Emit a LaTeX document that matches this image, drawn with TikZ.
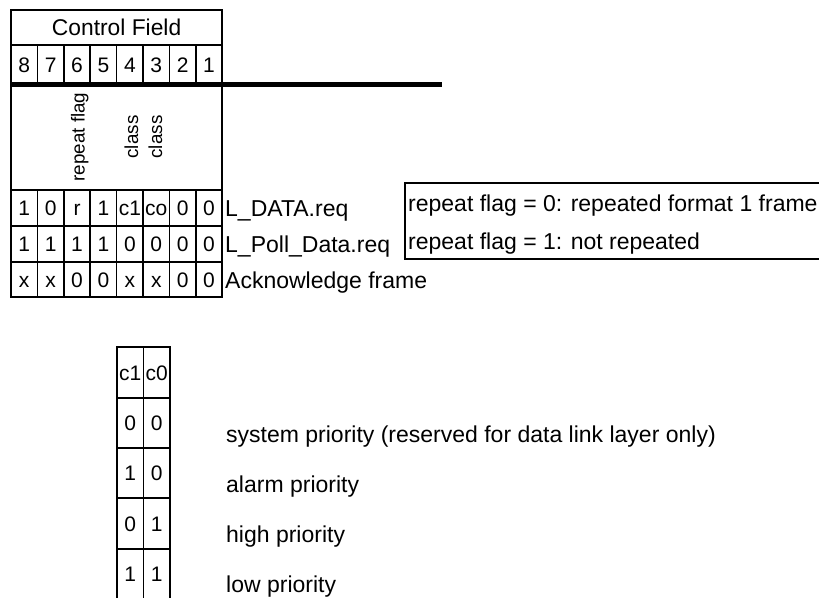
\documentclass[tikz,border=0pt]{standalone}
\usepackage{fontspec}
\setmainfont{Liberation Sans}
\begin{document}
\begin{tikzpicture}[x=1pt,y=-1pt,
  grid/.style={line width=1.7pt},
  thickrule/.style={line width=5pt},
  boxline/.style={line width=1.3pt},
  cell/.style={font=\fontsize{21}{21}\selectfont, inner sep=0pt, anchor=base},
  hdr/.style={font=\fontsize{22.8}{22.8}\selectfont, inner sep=0pt, anchor=base},
  lbl/.style={font=\fontsize{23}{23}\selectfont, anchor=base west, inner sep=0pt},
  vert/.style={font=\fontsize{18.8}{18.8}\selectfont, rotate=90, anchor=base, inner sep=0pt}]
\useasboundingbox (0,0) rectangle (819,597);
% ---------- top table ----------
\draw[grid] (11,10) rectangle (222.3,297);
\draw[grid] (11,45) -- (222.3,45);
\draw[grid] (11,190) -- (222.3,190);
\draw[grid] (11,226) -- (222.3,226);
\draw[grid] (11,262) -- (222.3,262);
\foreach \i in {1,...,7} {
  \draw[grid] ({11+26.41*\i},45) -- ({11+26.41*\i},84);
  \draw[grid] ({11+26.41*\i},190) -- ({11+26.41*\i},297);
}
\draw[thickrule] (10,84) -- (442,84);
\node[hdr] (cf) at (116.6,35) {Control Field};
\foreach \b [count=\i] in {8,7,6,5,4,3,2,1}
  \node[cell] (bit\b) at ({11+26.41*(\i-0.5)},72) {\b};
\node[vert] (rf) at (84.5,137) {repeat flag};
\node[vert] (cl1) at (138,137) {class};
\node[vert] (cl2) at (162,137) {class};
\foreach \v [count=\i] in {1,0,r,1,c1,co,0,0}
  \node[cell] (ra\i) at ({11+26.41*(\i-0.5)},215.5) {\v};
\foreach \v [count=\i] in {1,1,1,1,0,0,0,0}
  \node[cell] (rb\i) at ({11+26.41*(\i-0.5)},251.5) {\v};
\foreach \v [count=\i] in {x,x,0,0,x,x,0,0}
  \node[cell] (rc\i) at ({11+26.41*(\i-0.5)},287) {\v};
\node[lbl] (ldata) at (225,216) {L\_DATA.req};
\node[lbl] (lpoll) at (225,252) {L\_Poll\_Data.req};
\node[lbl] (ack) at (225,288) {Acknowledge frame};
% ---------- note box ----------
\draw[boxline] (820,183) -| (405,259) -- (820,259);
\node[lbl] (rf0) at (408,211) {repeat flag = 0: repeated format 1 frame};
\node[lbl] (rf1) at (408,249) {repeat flag = 1: not repeated};
% ---------- bottom table ----------
\foreach \x in {117,143.5,170}
  \draw[grid] (\x,347) -- (\x,598);
\foreach \y in {347,398,448,498,549}
  \draw[grid] (116.2,\y) -- (170.8,\y);
\node[cell] (h1) at (130.25,380) {c1};
\node[cell] (h0) at (156.75,380) {c0};
\foreach \a/\b [count=\i] in {0/0,1/0,0/1,1/1} {
  \node[cell] (p\i a) at (130.25,{423+50.3*(\i-1)+7.5}) {\a};
  \node[cell] (p\i b) at (156.75,{423+50.3*(\i-1)+7.5}) {\b};
}
\node[lbl] (sys) at (226,442) {system priority (reserved for data link layer only)};
\node[lbl] (alarm) at (226,492) {alarm priority};
\node[lbl] (high) at (226,542) {high priority};
\node[lbl] (low) at (226,592) {low priority};
\end{tikzpicture}
\end{document}
